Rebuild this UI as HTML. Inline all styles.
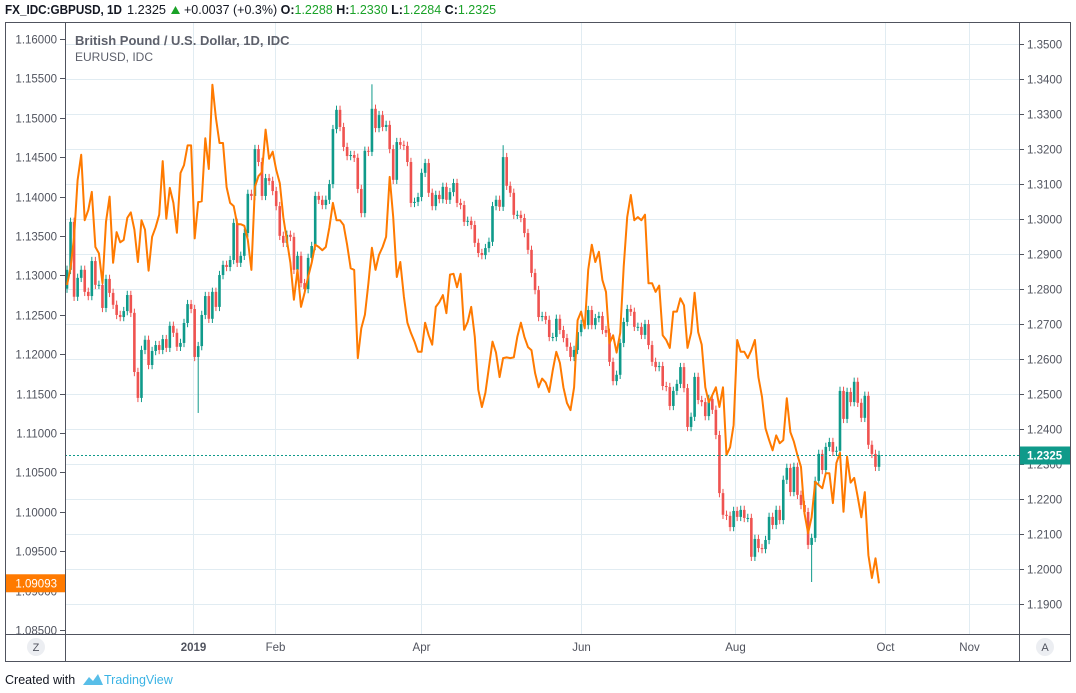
<!DOCTYPE html>
<html><head><meta charset="utf-8">
<style>
html,body{margin:0;padding:0;background:#fff;width:1076px;height:693px;overflow:hidden}
svg{display:block;font-family:"Liberation Sans",sans-serif}
</style></head>
<body>
<svg id="chart" width="1076" height="693" viewBox="0 0 1076 693" xmlns="http://www.w3.org/2000/svg">
  <g font-size="12.5">
    <text x="5" y="14" fill="#131722" font-weight="bold" textLength="117" lengthAdjust="spacingAndGlyphs">FX_IDC:GBPUSD, 1D</text>
    <text x="127" y="14" fill="#131722" textLength="39" lengthAdjust="spacingAndGlyphs">1.2325</text>
    <path d="M171 14 L175.5 6 L180 14 Z" fill="#1aa228"/>
    <text x="184" y="14" fill="#131722">+0.0037 (+0.3%) <tspan font-weight="bold">O:</tspan><tspan fill="#1aa228">1.2288</tspan> <tspan font-weight="bold">H:</tspan><tspan fill="#1aa228">1.2330</tspan> <tspan font-weight="bold">L:</tspan><tspan fill="#1aa228">1.2284</tspan> <tspan font-weight="bold">C:</tspan><tspan fill="#1aa228">1.2325</tspan></text>
  </g>
  <g id="grid"></g>
  <g id="plot"></g>
  <g id="axes"></g>
  <text x="75" y="45" font-size="13" font-weight="bold" fill="#5d606b">British Pound / U.S. Dollar, 1D, IDC</text>
  <text x="75" y="61" font-size="12" fill="#5d606b">EURUSD, IDC</text>
  <rect x="5.5" y="22.5" width="1065" height="639" fill="none" stroke="#50535e"/>
  <line x1="65.5" y1="22" x2="65.5" y2="662" stroke="#50535e"/>
  <line x1="1019.5" y1="22" x2="1019.5" y2="662" stroke="#50535e"/>
  <line x1="5" y1="634.5" x2="1071" y2="634.5" stroke="#50535e"/>
  <circle cx="36" cy="647" r="9" fill="#eceef2"/>
  <text x="36" y="651" font-size="11" fill="#50535e" text-anchor="middle">Z</text>
  <circle cx="1045" cy="647" r="9" fill="#eceef2"/>
  <text x="1045" y="651" font-size="11" fill="#50535e" text-anchor="middle">A</text>
  <text x="5" y="684" font-size="12.5" fill="#131722">Created with</text>
  <path d="M83 685 L89 677 L93 681 L98 674 L103 685 Z" fill="#3bb3e4" opacity="0.85"/>
  <text x="104" y="684" font-size="12.5" fill="#3bb3e4">TradingView</text>
</svg>
<script>
const gbpClose=[1.2854,1.2991,1.2777,1.2831,1.2854,1.2791,1.2779,1.2879,1.2811,1.2811,1.2745,1.2828,1.2788,1.2754,1.2725,1.2719,1.2736,1.2782,1.2731,1.2562,1.2488,1.2625,1.2654,1.2582,1.2622,1.2639,1.2625,1.2656,1.2631,1.2694,1.2674,1.2634,1.2645,1.2702,1.2756,1.2742,1.2605,1.2636,1.2725,1.2779,1.2714,1.2791,1.2748,1.2839,1.2868,1.2862,1.2882,1.2988,1.2874,1.2894,1.2959,1.3071,1.3065,1.3199,1.3162,1.3065,1.3116,1.3108,1.3079,1.3036,1.2951,1.2931,1.2954,1.2948,1.2854,1.2894,1.2816,1.2799,1.2888,1.2922,1.3065,1.3054,1.3039,1.3054,1.3099,1.3256,1.3311,1.3262,1.3205,1.3179,1.3182,1.3174,1.3085,1.3016,1.3194,1.3191,1.3314,1.3259,1.3296,1.3262,1.3268,1.3199,1.3111,1.3219,1.3211,1.3208,1.3162,1.3045,1.3048,1.3062,1.3131,1.3159,1.3074,1.3036,1.3068,1.3056,1.3091,1.3054,1.3076,1.3102,1.3045,1.3039,1.2991,1.2994,1.2982,1.2931,1.2902,1.2896,1.2916,1.2934,1.3036,1.3054,1.3034,1.3176,1.3094,1.3074,1.3011,1.3011,1.3002,1.2959,1.2911,1.2845,1.2796,1.2719,1.2722,1.2711,1.2662,1.2662,1.2714,1.2682,1.2659,1.2634,1.2605,1.2625,1.2676,1.2699,1.2696,1.2739,1.2696,1.2716,1.2722,1.2682,1.2674,1.2591,1.2536,1.2554,1.2645,1.2705,1.2742,1.2734,1.2691,1.2691,1.2668,1.2699,1.2639,1.2591,1.2576,1.2579,1.2522,1.2519,1.2465,1.2508,1.2528,1.2576,1.2516,1.2405,1.2434,1.2548,1.2482,1.2476,1.2436,1.2485,1.2454,1.2382,1.2216,1.2154,1.2151,1.2119,1.2165,1.2148,1.2168,1.2145,1.2145,1.2034,1.2085,1.2059,1.2056,1.2082,1.2148,1.2125,1.2168,1.2139,1.2254,1.2288,1.2219,1.2291,1.2211,1.2182,1.2162,1.2068,1.2088,1.2251,1.2328,1.2282,1.2348,1.2362,1.2334,1.2337,1.2508,1.2428,1.2505,1.2476,1.2534,1.2474,1.2431,1.2494,1.2354,1.2328,1.2291,1.2325];
const gbpFirstOpen=[1.2800];
const longWickIndex=[37,86,123,210];
const longWickPrice=[1.2445,1.3384,1.3210,1.1962];
const eurClose=[1.1288,1.1309,1.1349,1.1421,1.1453,1.1370,1.1383,1.1406,1.1336,1.1328,1.1290,1.1368,1.1400,1.1316,1.1355,1.1342,1.1345,1.1373,1.1380,1.1358,1.1317,1.1370,1.1358,1.1306,1.1349,1.1361,1.1377,1.1445,1.1372,1.1411,1.1392,1.1354,1.1430,1.1440,1.1465,1.1465,1.1347,1.1393,1.1394,1.1474,1.1435,1.1542,1.1500,1.1468,1.1468,1.1412,1.1392,1.1388,1.1365,1.1365,1.1363,1.1345,1.1307,1.1412,1.1426,1.1431,1.1485,1.1448,1.1457,1.1434,1.1417,1.1374,1.1345,1.1316,1.1269,1.1307,1.1260,1.1278,1.1298,1.1316,1.1339,1.1336,1.1332,1.1336,1.1361,1.1392,1.1370,1.1370,1.1364,1.1339,1.1309,1.1307,1.1195,1.1233,1.1250,1.1290,1.1335,1.1307,1.1326,1.1336,1.1349,1.1425,1.1374,1.1298,1.1317,1.1273,1.1240,1.1227,1.1216,1.1203,1.1203,1.1240,1.1224,1.1212,1.1260,1.1266,1.1275,1.1252,1.1301,1.1302,1.1285,1.1302,1.1231,1.1241,1.1260,1.1222,1.1155,1.1133,1.1151,1.1184,1.1216,1.1202,1.1171,1.1195,1.1196,1.1195,1.1196,1.1222,1.1240,1.1222,1.1209,1.1205,1.1176,1.1158,1.1169,1.1164,1.1152,1.1180,1.1203,1.1189,1.1158,1.1138,1.1129,1.1158,1.1243,1.1254,1.1233,1.1307,1.1339,1.1317,1.1330,1.1294,1.1279,1.1214,1.1224,1.1202,1.1227,1.1311,1.1374,1.1402,1.1370,1.1374,1.1370,1.1377,1.1290,1.1290,1.1279,1.1287,1.1224,1.1218,1.1208,1.1254,1.1254,1.1271,1.1262,1.1208,1.1227,1.1278,1.1228,1.1212,1.1158,1.1139,1.1148,1.1158,1.1133,1.1158,1.1072,1.1082,1.1110,1.1218,1.1203,1.1203,1.1195,1.1205,1.1218,1.1171,1.1146,1.1106,1.1091,1.1078,1.1097,1.1087,1.1091,1.1144,1.1101,1.1089,1.1072,1.1057,1.0998,1.0973,1.0993,1.1038,1.1034,1.1030,1.1049,1.1049,1.1011,1.1062,1.1075,1.1000,1.1070,1.1037,1.1043,1.1019,1.0993,1.1025,1.0945,1.0916,1.0941,1.09093];
const leftTicks=["1.16000","1.15500","1.15000","1.14500","1.14000","1.13500","1.13000","1.12500","1.12000","1.11500","1.11000","1.10500","1.10000","1.09500","1.09000","1.08500"];
const rightTicks=["1.3500","1.3400","1.3300","1.3200","1.3100","1.3000","1.2900","1.2800","1.2700","1.2600","1.2500","1.2400","1.2300","1.2200","1.2100","1.2000","1.1900"];
const monthLabels=["2019","Feb","Apr","Jun","Aug","Oct","Nov"];
const monthBarIndex=[35.5,58.8,99.9,145,188.3,230.8,254.3];

const NS="http://www.w3.org/2000/svg";
const X0=67,X1=879,PL=65,PR=1019;
const step=(X1-X0)/(gbpClose.length-1);
const xOf=i=>X0+i*step;
const yR=p=>43.7+(1.35-p)*3500;
const yL=p=>39+(1.16-p)*7880;
function mk(tag,attrs,parent){const e=document.createElementNS(NS,tag);for(const k in attrs)e.setAttribute(k,attrs[k]);parent.appendChild(e);return e;}
const grid=document.getElementById('grid'),plot=document.getElementById('plot'),axes=document.getElementById('axes');

rightTicks.forEach(t=>{const y=Math.round(yR(parseFloat(t)))+0.5;
  const g=mk('line',{x1:PL,x2:PR,y1:y,y2:y,stroke:'#e1ecf2'},grid);
  
  
  const tk=mk('line',{x1:PR,x2:PR+5,y1:y,y2:y,stroke:'#50535e'},axes);
  
  
  const tx=mk('text',{x:1027,y:y+4,'font-size':'11.5',fill:'#50535e'},axes);tx.textContent=t;
  
  
});
leftTicks.forEach(t=>{const y=Math.round(yL(parseFloat(t)))+0.5;
  const tk=mk('line',{x1:PL-5,x2:PL,y1:y,y2:y,stroke:'#50535e'},axes);
  
  
  const tx=mk('text',{x:PL-8,y:y+4,'font-size':'11.5',fill:'#50535e','text-anchor':'end'},axes);tx.textContent=t;
  
  
});
monthLabels.forEach((m,k)=>{const x=Math.round(xOf(monthBarIndex[k]))+0.5;
  const g=mk('line',{x1:x,x2:x,y1:23,y2:634,stroke:'#e1ecf2'},grid);
  
  
  const tx=mk('text',{x:x,y:651,'font-size':'11.5',fill:'#50535e','text-anchor':'middle','font-weight':m==='2019'?'bold':'normal'},axes);tx.textContent=m;
  
  
});

gbpClose.forEach((c,i)=>{
  const o=i===0?gbpFirstOpen[0]:gbpClose[i-1];
  let hi=Math.max(o,c)+0.0012,lo=Math.min(o,c)-0.0012;
  const w=longWickIndex.indexOf(i);
  if(w>=0){const p=longWickPrice[w];if(p>hi)hi=p;if(p<lo)lo=p;}
  const col=c>=o?'#0f9a8a':'#ef5350';
  const x=xOf(i);
  const wk=mk('line',{x1:x,x2:x,y1:yR(hi),y2:yR(lo),stroke:col,'stroke-width':1},plot);
  
  
  const yt=yR(Math.max(o,c)),yb=yR(Math.min(o,c));
  const b=mk('rect',{x:x-1.3,y:yt,width:2.6,height:Math.max(1,yb-yt),fill:col},plot);
  
  
});
const pts=eurClose.map((v,i)=>xOf(i).toFixed(1)+','+yL(v).toFixed(1)).join(' ');
const pl=mk('polyline',{points:pts,fill:'none',stroke:'#ff7a00','stroke-width':2,'stroke-linejoin':'round'},plot);


const lastG=gbpClose[gbpClose.length-1],ly=Math.round(yR(lastG))+0.5;
const dl=mk('line',{x1:PL,x2:PR,y1:ly,y2:ly,stroke:'#0f9a8a','stroke-dasharray':'2,2'},plot);


const gb=mk('rect',{x:PR,y:ly-9,width:52,height:18,fill:'#0f9a8a'},axes);


const gt=mk('text',{x:1027,y:ly+4,'font-size':'11.5',fill:'#fff','font-weight':'bold'},axes);gt.textContent=lastG.toFixed(4);


const lastE=eurClose[eurClose.length-1],ey=yL(lastE);
const ob=mk('rect',{x:5,y:ey-9,width:60,height:18,fill:'#ff7a00'},axes);


const ot=mk('text',{x:PL-8,y:ey+4,'font-size':'11.5',fill:'#fff','text-anchor':'end'},axes);ot.textContent=lastE.toFixed(5);


</script>
</body></html>
